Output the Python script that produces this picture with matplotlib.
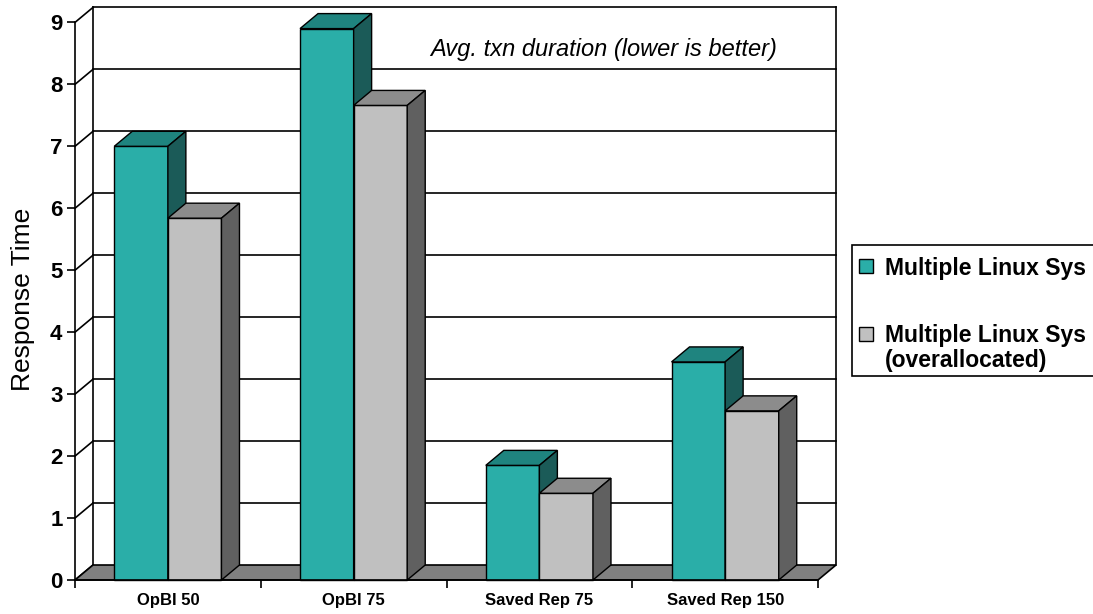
import matplotlib
matplotlib.use("Agg")
import matplotlib.pyplot as plt
from matplotlib.patches import Polygon, Rectangle

plt.rcParams['font.family'] = ['Liberation Sans', 'DejaVu Sans']

# data
categories = ['OpBI 50', 'OpBI 75', 'Saved Rep 75', 'Saved Rep 150']
series_names = ['Multiple Linux Sys', 'Multiple Linux Sys\n(overallocated)']
linux = [7.0, 8.9, 1.85, 3.52]
linux_over = [5.84, 7.66, 1.40, 2.73]
yticks = list(range(0, 10))

# colours: front, top, side
teal = ('#2AAEA8', '#1F847F', '#1B5B58')
grey = ('#C0C0C0', '#8C8C8C', '#606060')

W, H = 1093, 614
fig = plt.figure(figsize=(W / 100, H / 100), dpi=100)
ax = fig.add_axes([75 / W, (H - 580) / H, 743 / W, (580 - 22.4) / H])
ax.set_xlim(0, len(categories))
ax.set_ylim(0, 9)
ax.patch.set_alpha(0)

# depth of the 3d effect in data units
DX = 18 / 743 * len(categories)
DY = 15 / 61.96
n = len(categories)

# walls + gridlines
for v in yticks:
    ax.plot([0, DX], [v, v + DY], color='black', lw=1.2, clip_on=False, zorder=1)
    if v > 0:
        ax.plot([DX, n + DX], [v + DY, v + DY], color='black', lw=1.2, clip_on=False, zorder=1)
ax.plot([DX, DX], [DY, 9 + DY], color='black', lw=1.2, clip_on=False, zorder=1)
ax.plot([n + DX, n + DX], [DY, 9 + DY], color='black', lw=1.2, clip_on=False, zorder=1)

# floor
ax.add_patch(Polygon([(0, 0), (n, 0), (n + DX, DY), (DX, DY)], closed=True,
                     fc='#808080', ec='black', lw=1.2, zorder=2, clip_on=False))

bw = 53.6 / 185.75


def bar3d(x0, h, cols):
    front, top, side = cols
    kw = dict(ec='black', lw=1.0, zorder=3, clip_on=False)
    ax.add_patch(Rectangle((x0, 0), bw, h, fc=front, **kw))
    ax.add_patch(Polygon([(x0, h), (x0 + bw, h), (x0 + bw + DX, h + DY), (x0 + DX, h + DY)],
                         closed=True, fc=top, **kw))
    ax.add_patch(Polygon([(x0 + bw, 0), (x0 + bw + DX, DY), (x0 + bw + DX, h + DY), (x0 + bw, h)],
                         closed=True, fc=side, **kw))


for i in range(n):
    c = i + 0.5
    bar3d(c - bw, linux[i], teal)
    bar3d(c, linux_over[i], grey)

# axes
for s in ['top', 'right']:
    ax.spines[s].set_visible(False)
ax.spines['left'].set_linewidth(1.2)
ax.spines['bottom'].set_linewidth(1.2)
ax.spines['left'].set_zorder(4)
ax.spines['bottom'].set_zorder(4)
ax.set_yticks(yticks)
ax.set_yticklabels([str(t) for t in yticks], fontsize=16, fontweight='bold')
ax.tick_params(axis='y', direction='out', length=6, width=1.2, pad=3)
ax.set_xticks(range(n + 1))
ax.set_xticklabels([])
ax.set_xticks([i + 0.5 for i in range(n)], minor=True)
ax.set_xticklabels(categories, minor=True, fontsize=12, fontweight='bold')
ax.tick_params(axis='x', which='major', direction='out', length=6, width=1.2)
ax.tick_params(axis='x', which='minor', length=0, pad=9)

fig.text(23 / W, 1 - 299 / H, 'Response Time', rotation=90, fontsize=19,
         ha='center', va='center')

ax.text((604 - 75) / 185.75, (580 - 49) / 61.96, 'Avg. txn duration (lower is better)',
        fontsize=17, fontstyle='italic', ha='center', va='center', zorder=5)


# legend, drawn by hand so the frame runs off the right edge as in the source
def fx(px):
    return px / W


def fy(py):
    return 1 - py / H


fig.patches.append(Rectangle((fx(851.7), fy(375.7)), fx(1200) - fx(851.7), (375.7 - 245) / H,
                             transform=fig.transFigure, fc='white', ec='black', lw=1.2))
for sq_top, cols in [(259, teal), (326.5, grey)]:
    fig.patches.append(Rectangle((fx(859), fy(sq_top + 14)), 14 / W, 14 / H,
                                 transform=fig.transFigure, fc=cols[0], ec='black', lw=1.0))
fig.text(fx(885), fy(275), series_names[0], fontsize=16.5, fontweight='bold', va='baseline')
line1, line2 = series_names[1].split('\n')
fig.text(fx(885), fy(342), line1, fontsize=16.5, fontweight='bold', va='baseline')
fig.text(fx(885), fy(367), line2, fontsize=16.5, fontweight='bold', va='baseline')

fig.savefig('out.png', dpi=100)
